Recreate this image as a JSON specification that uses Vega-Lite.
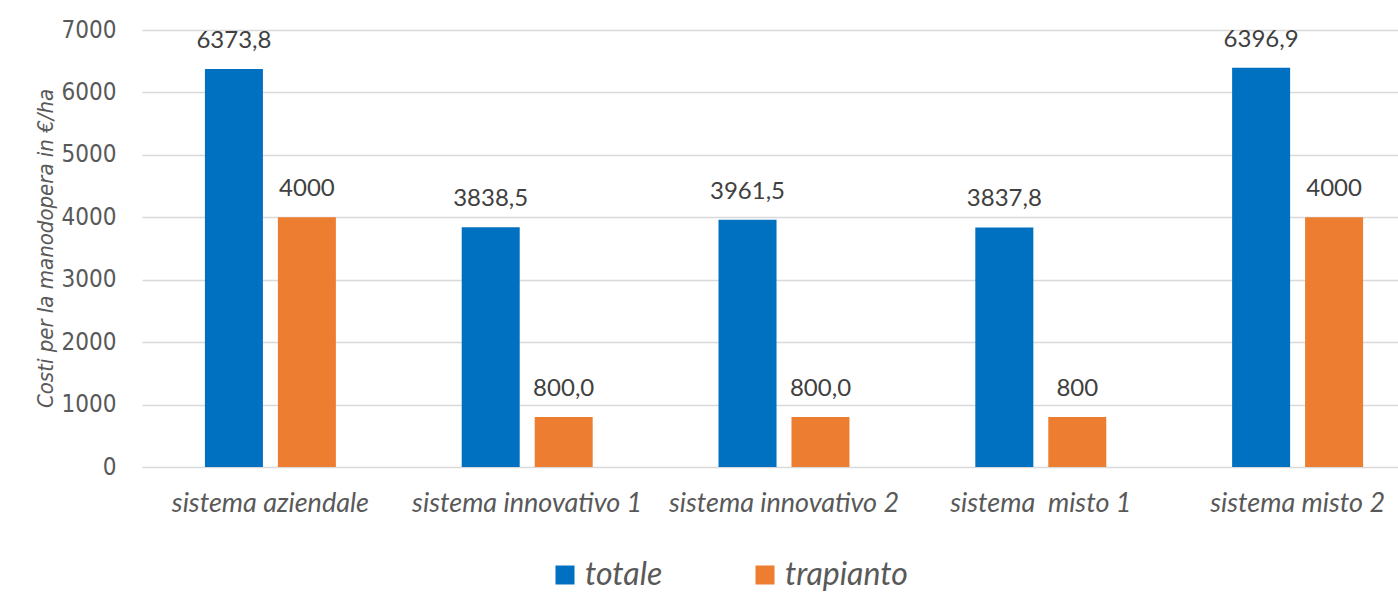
{
  "$schema": "https://vega.github.io/schema/vega-lite/v6.json",
  "autosize": "none",
  "padding": {"left": 142, "top": 30, "right": 0, "bottom": 126},
  "width": 1284,
  "height": 437,
  "background": "white",
  "config": {"view": {"stroke": null}},
  "data": {"values": [
    {"sistema": "sistema aziendale", "serie": "totale", "valore": 6373.8, "etichetta": "6373,8"},
    {"sistema": "sistema aziendale", "serie": "trapianto", "valore": 4000, "etichetta": "4000"},
    {"sistema": "sistema innovativo 1", "serie": "totale", "valore": 3838.5, "etichetta": "3838,5"},
    {"sistema": "sistema innovativo 1", "serie": "trapianto", "valore": 800, "etichetta": "800,0"},
    {"sistema": "sistema innovativo 2", "serie": "totale", "valore": 3961.5, "etichetta": "3961,5"},
    {"sistema": "sistema innovativo 2", "serie": "trapianto", "valore": 800, "etichetta": "800,0"},
    {"sistema": "sistema \u00a0misto 1", "serie": "totale", "valore": 3837.8, "etichetta": "3837,8"},
    {"sistema": "sistema \u00a0misto 1", "serie": "trapianto", "valore": 800, "etichetta": "800"},
    {"sistema": "sistema misto 2", "serie": "totale", "valore": 6396.9, "etichetta": "6396,9"},
    {"sistema": "sistema misto 2", "serie": "trapianto", "valore": 4000, "etichetta": "4000"}
  ]},
  "encoding": {
    "x": {
      "field": "sistema", "type": "nominal", "sort": null,
      "scale": {"paddingInner": 0.49, "paddingOuter": 0.245},
      "axis": {
        "title": null, "domain": false, "ticks": false, "labelAngle": 0,
        "labelFont": "Lato", "labelFontStyle": "italic", "labelFontSize": 27,
        "labelColor": "#595959", "labelPadding": 23, "labelLimit": 400
      }
    },
    "xOffset": {"field": "serie", "type": "nominal", "scale": {"paddingInner": 0.205, "paddingOuter": 0}},
    "y": {
      "field": "valore", "type": "quantitative",
      "scale": {"domain": [0, 7000], "nice": false},
      "axis": {
        "title": "Costi per la manodopera in  €/ha",
        "values": [0, 1000, 2000, 3000, 4000, 5000, 6000, 7000],
        "format": "d",
        "domain": false, "ticks": false,
        "gridColor": "#d9d9d9", "gridWidth": 1.5,
        "labelFont": "DejaVu Sans Condensed, Liberation Sans", "labelFontSize": 24, "labelColor": "#595959", "labelPadding": 26,
        "titleFont": "DejaVu Sans Condensed, Liberation Sans", "titleFontStyle": "italic", "titleFontWeight": "normal",
        "titleFontSize": 22, "titleColor": "#595959",
        "titleX": -97, "titleY": 218, "titleAngle": -90, "titleAlign": "center", "titleBaseline": "middle"
      }
    }
  },
  "layer": [
    {
      "mark": {"type": "bar"},
      "encoding": {
        "color": {
          "field": "serie", "type": "nominal",
          "scale": {"domain": ["totale", "trapianto"], "range": ["#0070C0", "#ED7D31"]},
          "legend": {
            "title": null, "orient": "none", "direction": "horizontal",
            "legendX": 407, "legendY": 529,
            "symbolType": "square", "symbolSize": 361, "symbolStrokeWidth": 0,
            "labelFont": "Lato", "labelFontStyle": "italic", "labelFontSize": 32, "labelColor": "#595959",
            "labelOffset": 4, "labelLimit": 400, "columnPadding": 86
          }
        }
      }
    },
    {
      "mark": {"type": "text", "font": "Lato", "fontSize": 24, "color": "#404040", "baseline": "alphabetic", "dy": -21},
      "encoding": {"text": {"field": "etichetta", "type": "nominal"}}
    }
  ]
}
